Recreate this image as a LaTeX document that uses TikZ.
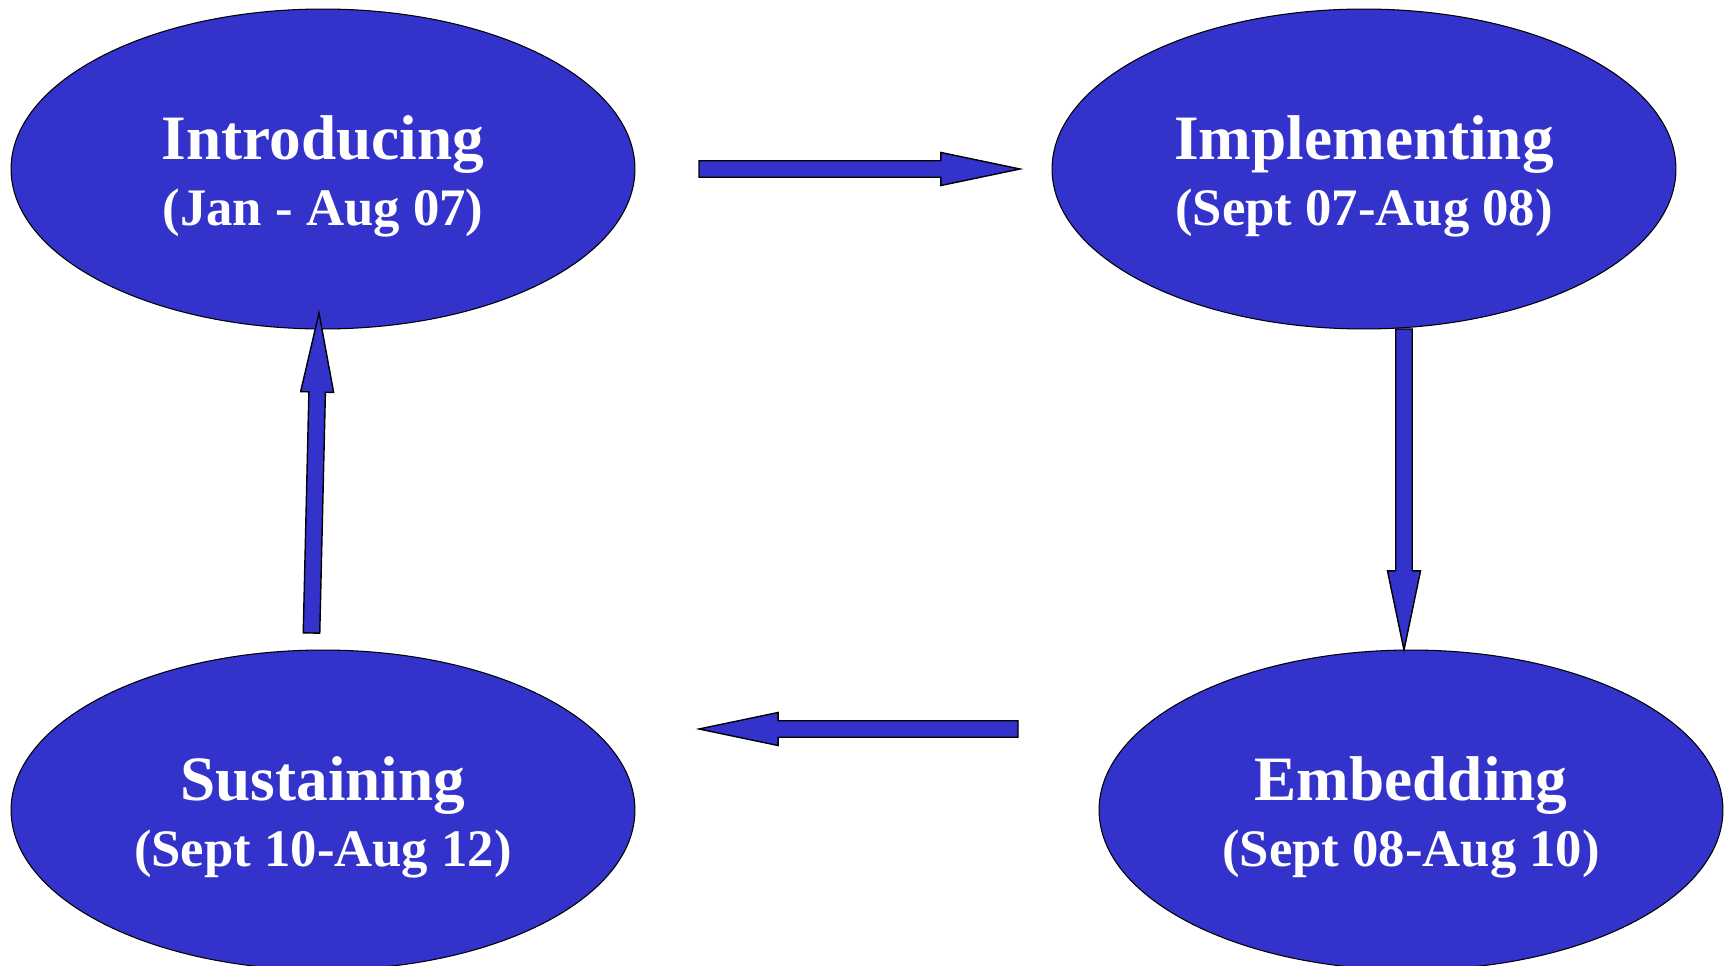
\documentclass[tikz,border=0pt]{standalone}
\usepackage{fontspec}
\setmainfont{Liberation Serif}
\usetikzlibrary{shapes.geometric,calc}
\definecolor{phaseblue}{RGB}{51,51,204}
\newcommand\phasetitle{\fontsize{36}{37.4}\selectfont\bfseries}
\newcommand\phasedate{\fontsize{30}{37.4}\selectfont\bfseries}
\newcommand\phasearrow[2]{%
  \coordinate (hb) at ($(#2)!45pt!(#1)$);
  \filldraw[blockarrow] ($(#1)!4.7pt!90:(#2)$) -- ($(hb)!4.7pt!90:(#2)$)
    -- ($(hb)!9.4pt!90:(#2)$) -- (#2) -- ($(hb)!9.4pt!-90:(#2)$)
    -- ($(hb)!4.7pt!-90:(#2)$) -- ($(#1)!4.7pt!-90:(#2)$) -- cycle;}
\tikzset{
  phase/.style={ellipse, draw=black, line width=0.6pt, fill=phaseblue,
    text=white, minimum width=12.48cm, minimum height=6.4cm, align=center,
    font=\phasetitle, text height=64pt, text depth=0pt},
  blockarrow/.style={fill=phaseblue, draw=black, line width=0.8pt, line join=miter}
}
\begin{document}
\begin{tikzpicture}[x=0.02cm, y=-0.02cm]
    \useasboundingbox (0, 0) rectangle (1732, 966);

    \coordinate (Intro) at (323, 169);
    \coordinate (Impl) at (1364, 169);
    \coordinate (Embed) at (1411, 810);
    \coordinate (Sust) at (323, 810);

    \coordinate (Rt) at (699, 169);
    \coordinate (Rh) at (1020, 169);
    \coordinate (Dt) at (1404, 329);
    \coordinate (Dh) at (1404, 650);
    \coordinate (Lt) at (1018, 729);
    \coordinate (Lh) at (699, 729);
    \coordinate (Ut) at (311.5, 633);
    \coordinate (Uh) at (319, 313);

    \node[phase] (intro) at (Intro) {Introducing\\{\phasedate (Jan - Aug 07)}};
    \node[phase] (impl) at (Impl) {Implementing\\{\phasedate (Sept 07-Aug 08)}};
    \node[phase] (embed) at (Embed) {Embedding\\{\phasedate (Sept 08-Aug 10)}};
    \node[phase] (sust) at (Sust) {Sustaining\\{\phasedate (Sept 10-Aug 12)}};

    \phasearrow{Rt}{Rh}
    \phasearrow{Dt}{Dh}
    \phasearrow{Lt}{Lh}
    \phasearrow{Ut}{Uh}
\end{tikzpicture}
\end{document}
